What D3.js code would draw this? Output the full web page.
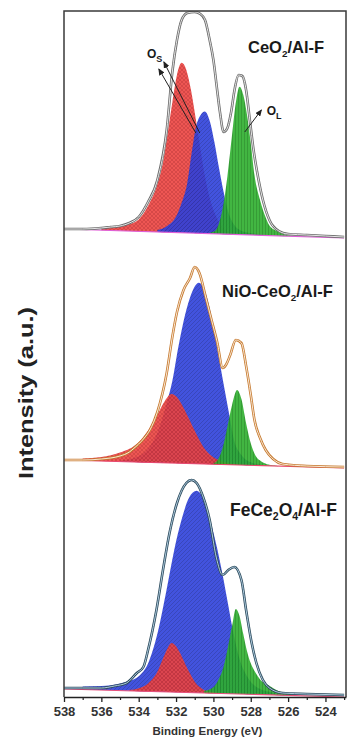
<!DOCTYPE html>
<html><head><meta charset="utf-8">
<script src="https://cdn.jsdelivr.net/npm/d3@7"></script>
<style>
html,body{margin:0;padding:0;background:#fff}
svg{display:block}
text{font-family:"Liberation Sans",Arial,Helvetica,sans-serif;font-weight:bold}
</style>
</head><body>
<svg id="c" width="348" height="738"></svg>
<script>
// ---------------- DATA ----------------
const energyTicks = [538, 536, 534, 532, 530, 528, 526, 524];
const minorTicks = [537, 535, 533, 531, 529, 527, 525, 523];
const xTitle = "Binding Energy (eV)";
const yTitle = "Intensity (a.u.)";
const sampleLabels = [
  [["CeO", 0], ["2", 1], ["/Al-F", 0]],
  [["NiO-CeO", 0], ["2", 1], ["/Al-F", 0]],
  [["FeCe", 0], ["2", 1], ["O", 0], ["4", 1], ["/Al-F", 0]]
];

// Panel 1: CeO2/Al-F  ([binding energy eV, intensity a.u.])
const background1 = [[538, 11], [523, 2]];
const envelope1 = [[538, 11], [537, 11], [536, 12], [535.5, 13], [535, 14], [534.5, 17], [534, 23], [533.5, 38], [533, 60],
  [532.5, 110], [532.2, 168], [531.95, 200], [531.7, 220], [531.4, 227], [531, 228], [530.7, 226], [530.45, 220],
  [530.2, 200], [530, 180], [529.8, 150], [529.65, 128], [529.45, 108], [529.25, 112], [529.05, 128], [528.85, 152],
  [528.65, 165], [528.45, 164], [528.25, 150], [528.05, 120], [527.85, 90], [527.6, 62], [527.35, 40], [527, 20],
  [526.5, 9], [526, 6], [525, 5], [524, 4], [523, 3]];
// component heights above background
const red1 = [[536, 2], [535, 4], [534.5, 7], [534, 12], [533.5, 26], [533, 48], [532.7, 70], [532.45, 99], [532.2, 130],
  [531.95, 158], [531.7, 170], [531.45, 163], [531.2, 143], [530.95, 115], [530.7, 85], [530.45, 57], [530.2, 36],
  [529.7, 12], [529.2, 3], [528.5, 0]];
const blue1 = [[533, 2], [532.5, 6], [532, 16], [531.7, 30], [531.4, 50], [531.15, 82], [530.95, 105], [530.7, 118],
  [530.46, 122], [530.2, 113], [529.95, 92], [529.7, 66], [529.45, 42], [529.2, 22], [528.9, 10], [528.5, 4], [528, 2],
  [527.5, 1], [527, 0]];
const green1 = [[530.5, 0], [530, 2], [529.75, 8], [529.5, 26], [529.25, 58], [529, 100], [528.8, 132], [528.6, 148],
  [528.4, 140], [528.2, 120], [528, 92], [527.8, 60], [527.5, 35], [527.2, 18], [527, 10], [526.5, 4], [526, 1], [525.5, 0]];

// Panel 2: NiO-CeO2/Al-F
const background2 = [[538, 10], [523, 2]];
const envelope2 = [[538, 10], [537, 10], [536, 11], [535, 14], [534.5, 18], [534.3, 21], [534, 26], [533.7, 32], [533.4, 40],
  [533, 58], [532.5, 97], [532.2, 133], [531.95, 158], [531.6, 180], [531.25, 192], [531, 203], [530.75, 197],
  [530.4, 172], [530.1, 150], [529.8, 128], [529.5, 102], [529.3, 106], [529.1, 115], [528.8, 130], [528.5, 127],
  [528.25, 104], [528, 75], [527.8, 50], [527.5, 32], [527.2, 20], [526.8, 11], [526.3, 6], [525, 4], [523, 3]];
const red2 = [[537, 2], [536, 4], [535.5, 6], [535, 9], [534.5, 13], [534, 20], [533.5, 32], [533, 48], [532.6, 62],
  [532.24, 69], [531.9, 65], [531.5, 52], [531, 33], [530.5, 16], [530, 7], [529.5, 3], [529, 1], [528.5, 0]];
const blue2 = [[535, 1], [534, 6], [533.5, 14], [533, 30], [532.5, 60], [532.2, 82], [531.9, 114], [531.6, 142],
  [531.25, 166], [530.78, 181], [530.4, 170], [530, 138], [529.65, 101], [529.4, 75], [529.1, 45], [528.9, 25],
  [528.5, 10], [528, 3], [527.5, 1], [527, 0]];
const green2 = [[530, 1], [529.75, 5], [529.5, 17], [529.25, 38], [529, 60], [528.73, 75], [528.5, 66], [528.25, 42],
  [528, 22], [527.75, 10], [527.5, 5], [527, 1], [526.5, 0]];

// Panel 3: FeCe2O4/Al-F
const background3 = [[538, 11], [523, 3]];
const envelope3 = [[538, 12], [537, 12], [536, 12], [535.3, 14], [534.65, 17], [534.1, 27], [533.75, 33], [533.5, 50],
  [533.05, 90], [532.7, 130], [532.35, 167], [531.95, 197], [531.45, 217], [531.17, 220], [530.9, 217], [530.55, 203],
  [530.2, 180], [529.85, 143], [529.5, 125], [529.2, 130], [528.88, 133], [528.5, 120], [528.25, 90], [527.95, 57],
  [527.7, 37], [527.35, 20], [527, 12], [526.3, 7], [525, 6], [523, 5]];
const red3 = [[534.5, 1], [534, 3], [533.5, 8], [533.2, 14], [533, 20], [532.75, 31], [532.5, 42], [532.24, 49],
  [532, 46], [531.75, 38], [531.5, 28], [531.25, 19], [531, 11], [530.75, 6], [530.5, 3], [530, 1], [529.5, 0]];
const blue3 = [[537, 3], [536, 4], [535, 7], [534.5, 10], [534, 15], [533.5, 28], [533, 58], [532.5, 103], [532.1, 142],
  [531.7, 173], [531.3, 195], [530.9, 202], [530.5, 193], [530.1, 168], [529.8, 145], [529.5, 118], [529.2, 88],
  [528.9, 58], [528.6, 35], [528.2, 18], [527.8, 9], [527.4, 5], [527, 3], [526.5, 1], [526, 0]];
const green3 = [[530.5, 2], [530, 6], [529.75, 13], [529.5, 24], [529.25, 44], [529, 68], [528.8, 85], [528.6, 78],
  [528.4, 60], [528.2, 43], [528, 31], [527.75, 22], [527.5, 15], [527, 9], [526.5, 4], [526, 2], [525.5, 0]];

// Annotations (panel 1), in [eV, intensity]
const osLabelPos = [533.56, 182];
const osArrows = [[[530.73, 107], [532.65, 178]], [[530.94, 107], [532.92, 171]]];
const olLabelPos = [527.15, 125];
const olArrow = [[528.32, 108], [527.43, 130]];

// ---------------- LAYOUT / STYLE ----------------
const frame = {left: 64, right: 346, top: 11, bottom: 697};
const panelBase = [240, 470, 700];
const panelLabelPos = [[248, 53, 16.5], [222, 297, 16.5], [230, 516, 17.5]];
const envelopeStyle = [
  {outer: "#6a6a6a", inner: "#f4f4f4"},
  {outer: "#c67a30", inner: "#fff4e6"},
  {outer: "#2c4a5c", inner: "#bcd9ec"}
];
const bgColor = ["#e060d8", "#e8486e", "#e8507a"];
const drawOrder = [["red", "blue", "green"], ["blue", "red", "green"], ["blue", "red", "green"]];

const panels = [
  {bg: background1, env: envelope1, comps: {red: red1, blue: blue1, green: green1}},
  {bg: background2, env: envelope2, comps: {red: red2, blue: blue2, green: green2}},
  {bg: background3, env: envelope3, comps: {red: red3, blue: blue3, green: green3}}
];

const svg = d3.select("#c");
const defs = svg.append("defs");

function makePattern(id, size, base, d, stroke, sw) {
  const p = defs.append("pattern").attr("id", id).attr("patternUnits", "userSpaceOnUse")
    .attr("width", size).attr("height", size);
  p.append("rect").attr("width", size).attr("height", size).attr("fill", base);
  p.append("path").attr("d", d).attr("stroke", stroke).attr("stroke-width", sw).attr("fill", "none");
}
makePattern("pRed", 4, "#ec4440", "M0,0L4,4M4,0L0,4", "#c02a2a", 0.6);
makePattern("pBlue", 4, "#2d40da", "M-1,1L1,-1M0,4L4,0M3,5L5,3", "#1e2a9c", 0.6);
makePattern("pGreen", 3, "#2eae2e", "M1.5,0L1.5,3", "#1a841a", 0.7);
const fills = {red: "url(#pRed)", blue: "url(#pBlue)", green: "url(#pGreen)"};

defs.append("clipPath").attr("id", "clip").append("rect")
  .attr("x", frame.left).attr("y", frame.top)
  .attr("width", frame.right - frame.left).attr("height", frame.bottom - frame.top);

defs.append("marker").attr("id", "arrow").attr("markerUnits", "userSpaceOnUse")
  .attr("markerWidth", 7).attr("markerHeight", 6).attr("refX", 6).attr("refY", 3).attr("orient", "auto")
  .append("path").attr("d", "M0,0L7,3L0,6Z").attr("fill", "#222");

const x = d3.scaleLinear().domain([538, 522.9]).range([frame.left, frame.right]);

const plot = svg.append("g").attr("clip-path", "url(#clip)");

panels.forEach((p, i) => {
  const y = d3.scaleLinear().domain([0, 230]).range([panelBase[i], panelBase[i] - 230]);
  const bgScale = d3.scaleLinear().domain(p.bg.map(d => d[0])).range(p.bg.map(d => d[1]));
  const g = plot.append("g");

  const area = d3.area()
    .x(d => x(d[0]))
    .y0(d => y(bgScale(d[0])))
    .y1(d => y(bgScale(d[0]) + d[1]))
    .curve(d3.curveMonotoneX);

  drawOrder[i].forEach(k => {
    g.append("path").datum(p.comps[k]).attr("d", area)
      .attr("fill", fills[k]).attr("fill-opacity", 0.9);
  });

  g.append("path").datum(p.bg)
    .attr("d", d3.line().x(d => x(d[0])).y(d => y(d[1])))
    .attr("fill", "none").attr("stroke", bgColor[i]).attr("stroke-width", 1.2);

  const line = d3.line().x(d => x(d[0])).y(d => y(d[1])).curve(d3.curveMonotoneX);
  g.append("path").datum(p.env).attr("d", line).attr("fill", "none")
    .attr("stroke", envelopeStyle[i].outer).attr("stroke-width", 2.6).attr("stroke-linejoin", "round");
  g.append("path").datum(p.env).attr("d", line).attr("fill", "none")
    .attr("stroke", envelopeStyle[i].inner).attr("stroke-width", 0.9).attr("stroke-linejoin", "round");

  const lp = panelLabelPos[i];
  const t = svg.append("text").attr("x", lp[0]).attr("y", lp[1]).attr("font-size", lp[2]).attr("fill", "#1a1a1a");
  let shifted = false;
  sampleLabels[i].forEach(([s, sub]) => {
    const ts = t.append("tspan").text(s);
    if (sub && !shifted) { ts.attr("font-size", lp[2] * 0.6).attr("dy", 4); shifted = true; }
    else if (!sub && shifted) { ts.attr("dy", -4); shifted = false; }
    else if (sub) { ts.attr("font-size", lp[2] * 0.6); }
  });

  if (i === 0) {
    const os = svg.append("text").attr("x", x(osLabelPos[0])).attr("y", y(osLabelPos[1]))
      .attr("font-size", 12).attr("fill", "#1a1a1a");
    os.append("tspan").text("O");
    os.append("tspan").text("S").attr("font-size", 9).attr("dy", 4);
    osArrows.forEach(a => {
      svg.append("line").attr("x1", x(a[0][0])).attr("y1", y(a[0][1]))
        .attr("x2", x(a[1][0])).attr("y2", y(a[1][1]))
        .attr("stroke", "#222").attr("stroke-width", 1).attr("marker-end", "url(#arrow)");
    });
    const ol = svg.append("text").attr("x", x(olLabelPos[0])).attr("y", y(olLabelPos[1]))
      .attr("font-size", 12).attr("fill", "#1a1a1a");
    ol.append("tspan").text("O");
    ol.append("tspan").text("L").attr("font-size", 9).attr("dy", 4);
    svg.append("line").attr("x1", x(olArrow[0][0])).attr("y1", y(olArrow[0][1]))
      .attr("x2", x(olArrow[1][0])).attr("y2", y(olArrow[1][1]))
      .attr("stroke", "#222").attr("stroke-width", 1).attr("marker-end", "url(#arrow)");
  }
});

svg.append("path")
  .attr("d", `M${frame.left},${frame.bottom}V${frame.top}H${frame.right}V${frame.bottom}`)
  .attr("fill", "none").attr("stroke", "#3a3a3a").attr("stroke-width", 1.5);

const axG = svg.append("g").attr("transform", `translate(0,${frame.bottom})`);
axG.call(d3.axisBottom(x).tickValues(energyTicks).tickSize(5).tickSizeOuter(0).tickPadding(5).tickFormat(d3.format("d")));
axG.select(".domain").attr("stroke", "#222").attr("stroke-width", 1.6);
axG.selectAll(".tick line").attr("stroke", "#222").attr("stroke-width", 1.3);
axG.selectAll(".tick text").attr("font-size", 13).attr("fill", "#333")
  .attr("font-family", '"Liberation Sans",Arial,sans-serif').attr("font-weight", "bold");
const mG = svg.append("g").attr("transform", `translate(0,${frame.bottom})`);
mG.call(d3.axisBottom(x).tickValues(minorTicks).tickSize(3).tickSizeOuter(0).tickFormat(""));
mG.select(".domain").remove();
mG.selectAll(".tick text").remove();
mG.selectAll(".tick line").attr("stroke", "#222").attr("stroke-width", 1.2);

svg.append("text").attr("x", 207.5).attr("y", 734.5).attr("text-anchor", "middle")
  .attr("font-size", 11.5).attr("fill", "#333").text(xTitle);
svg.append("text").attr("transform", "translate(33,393) rotate(-90)").attr("text-anchor", "middle")
  .attr("font-size", 20).attr("fill", "#222").attr("textLength", 172).attr("lengthAdjust", "spacingAndGlyphs")
  .text(yTitle);
</script>
</body></html>
